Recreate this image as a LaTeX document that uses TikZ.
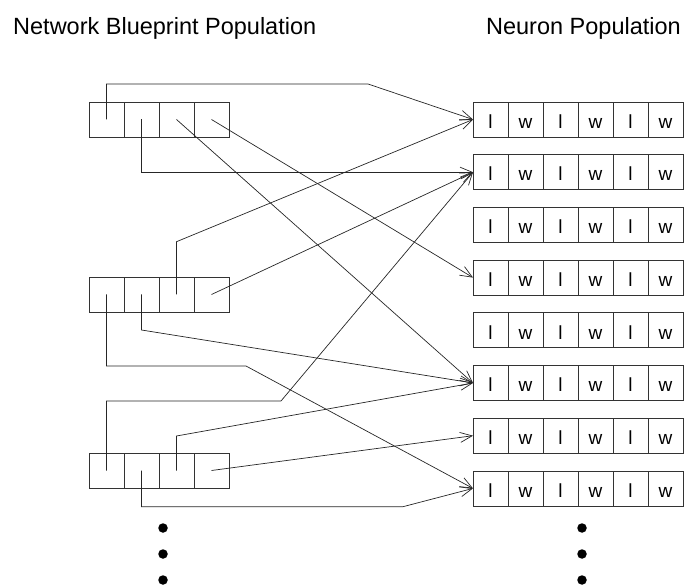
\documentclass[tikz,border=0pt]{standalone}
\usepackage{fontspec}
\setmainfont{Liberation Sans}
\usetikzlibrary{arrows.meta}
\begin{document}
\begin{tikzpicture}[x=1pt,y=-1pt,
  cell/.style={draw=black!80, line width=0.8pt, minimum width=35pt, minimum height=35pt, inner sep=0pt, outer sep=0pt, font=\fontsize{19}{19}\selectfont, text height=17.6pt, text depth=0pt},
  conn/.style={draw=black!85, line width=0.7pt},
  arr/.style={conn, -{Straight Barb[length=12pt,width=10pt]}},
  title/.style={font=\fontsize{23.5}{26}\selectfont, inner sep=0pt},
  dot/.style={fill=black, circle, minimum size=9.5pt, inner sep=0pt}]
\useasboundingbox (0,0) rectangle (686,585);
% titles
\node[title, anchor=base west] (t1) at (13,35) {Network Blueprint Population};
\node[title, anchor=base east] (t2) at (681,35) {Neuron Population};
% blueprint boxes
\foreach \k/\top in {1/102, 2/277, 3/453}{
  \foreach \j in {1,2,3,4}{
    \node[cell] (b\k-\j) at ({71.5+35*\j}, {\top+17.5}) {};
  }
}
% neuron rows
\foreach \k in {1,...,8}{
  \foreach \j/\t in {1/l,2/w,3/l,4/w,5/l,6/w}{
    \node[cell] (n\k-\j) at ({455.5+35*\j}, {119.5+52.7*(\k-1)}) {\t};
  }
}
% connectors
\draw[arr] (b1-1.center) |- (368,84) -- (n1-1.west);
\draw[arr] (b1-2.center) |- (n2-1.west);
\draw[arr] (b1-3.center) -- (n6-1.west);
\draw[arr] (b1-4.center) -- (n4-1.west);
\draw[arr] (b2-1.center) |- (246,366) -- (n8-1.west);
\draw[arr] (b2-2.center) -- (b2-2.center |- 0,330) -- (n6-1.west);
\draw[arr] (b2-3.center) -- (b2-3.center |- 0,241.7) -- (n1-1.west);
\draw[arr] (b2-4.center) -- (n2-1.west);
\draw[arr] (b3-1.center) |- (281,401) -- (n2-1.west);
\draw[arr] (b3-2.center) |- (403,506.7) -- (n8-1.west);
\draw[arr] (b3-3.center) -- (b3-3.center |- 0,436) -- (n6-1.west);
\draw[arr] (b3-4.center) -- (n7-1.west);
% dots
\foreach \y [count=\i] in {528,554,580}{
  \node[dot] (dl\i) at (163,\y) {};
  \node[dot] (dr\i) at (582,\y) {};
}
\end{tikzpicture}
\end{document}
